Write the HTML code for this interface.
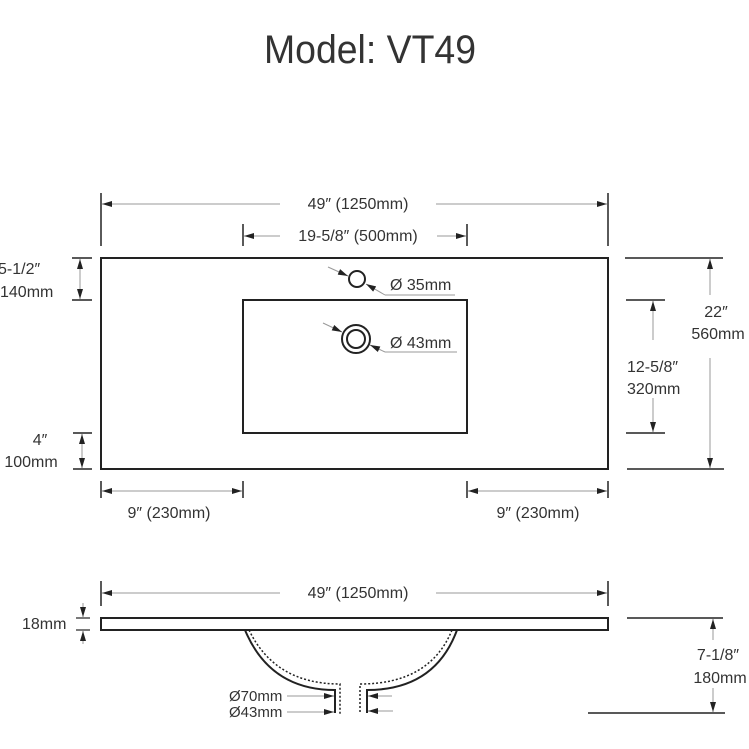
<!DOCTYPE html>
<html><head><meta charset="utf-8"><style>
html,body{margin:0;padding:0;background:#fff}
svg{display:block}
text{font-family:"Liberation Sans",sans-serif;fill:#333;font-size:16px}
</style></head><body>
<svg width="749" height="749" viewBox="0 0 749 749" xmlns="http://www.w3.org/2000/svg">
<defs>
<marker id="a" viewBox="0 0 10 6" refX="10" refY="3" markerWidth="11" markerHeight="6" markerUnits="userSpaceOnUse" orient="auto-start-reverse"><path d="M0,0L10,3L0,6Z" fill="#222"/></marker>
</defs>
<text x="370" y="63" text-anchor="middle" textLength="212" lengthAdjust="spacingAndGlyphs" style="font-size:40px">Model: VT49</text>

<g stroke="#222" fill="none">
<rect x="101" y="258" width="507" height="211" stroke-width="2"/>
<rect x="243" y="300" width="224" height="133" stroke-width="2"/>
<circle cx="357" cy="279" r="8" stroke-width="2"/>
<circle cx="356" cy="339" r="14" stroke-width="2"/>
<circle cx="356" cy="339" r="9" stroke-width="2"/>
<line x1="101" y1="193" x2="101" y2="246" stroke-width="1.5"/>
<line x1="608" y1="193" x2="608" y2="246" stroke-width="1.5"/>
<line x1="243" y1="224" x2="243" y2="246" stroke-width="1.5"/>
<line x1="467" y1="224" x2="467" y2="246" stroke-width="1.5"/>
<line x1="101" y1="481" x2="101" y2="498" stroke-width="1.5"/>
<line x1="243" y1="481" x2="243" y2="498" stroke-width="1.5"/>
<line x1="467" y1="481" x2="467" y2="498" stroke-width="1.5"/>
<line x1="608" y1="481" x2="608" y2="498" stroke-width="1.5"/>
<line x1="72" y1="258" x2="92" y2="258" stroke-width="1.5"/>
<line x1="72" y1="300" x2="92" y2="300" stroke-width="1.5"/>
<line x1="73" y1="433" x2="92" y2="433" stroke-width="1.5"/>
<line x1="73" y1="469" x2="92" y2="469" stroke-width="1.5"/>
<line x1="625" y1="258" x2="723" y2="258" stroke-width="1.5"/>
<line x1="627" y1="469" x2="724" y2="469" stroke-width="1.5"/>
<line x1="626" y1="300" x2="665" y2="300" stroke-width="1.5"/>
<line x1="626" y1="433" x2="665" y2="433" stroke-width="1.5"/>
</g>
<g stroke="#999" stroke-width="1" fill="none">
<line x1="102" y1="204" x2="280" y2="204" marker-start="url(#a)"/>
<line x1="436" y1="204" x2="607" y2="204" marker-end="url(#a)"/>
<line x1="244" y1="236" x2="280" y2="236" marker-start="url(#a)"/>
<line x1="437" y1="236" x2="466" y2="236" marker-end="url(#a)"/>
<line x1="80" y1="259" x2="80" y2="299" marker-start="url(#a)" marker-end="url(#a)"/>
<line x1="82" y1="434" x2="82" y2="468" marker-start="url(#a)" marker-end="url(#a)"/>
<line x1="102" y1="491" x2="242" y2="491" marker-start="url(#a)" marker-end="url(#a)"/>
<line x1="468" y1="491" x2="607" y2="491" marker-start="url(#a)" marker-end="url(#a)"/>
<line x1="710" y1="259" x2="710" y2="295" marker-start="url(#a)"/>
<line x1="710" y1="358" x2="710" y2="468" marker-end="url(#a)"/>
<line x1="653" y1="301" x2="653" y2="340" marker-start="url(#a)"/>
<line x1="653" y1="398" x2="653" y2="432" marker-end="url(#a)"/>
<line x1="328" y1="267" x2="348" y2="276" marker-end="url(#a)"/>
<line x1="385" y1="295" x2="366" y2="284" marker-end="url(#a)"/>
<line x1="385" y1="295" x2="455" y2="295"/>
<line x1="323" y1="323" x2="342" y2="332" marker-end="url(#a)"/>
<line x1="385" y1="352" x2="370" y2="345" marker-end="url(#a)"/>
<line x1="385" y1="352" x2="457" y2="352"/>
</g>
<text x="358" y="209" text-anchor="middle">49″ (1250mm)</text>
<text x="358" y="241" text-anchor="middle">19-5/8″ (500mm)</text>
<text x="390" y="290">Ø 35mm</text>
<text x="390" y="348">Ø 43mm</text>
<text x="-2" y="274">5-1/2″</text>
<text x="0" y="297">140mm</text>
<text x="40" y="445" text-anchor="middle">4″</text>
<text x="31" y="467" text-anchor="middle">100mm</text>
<text x="169" y="518" text-anchor="middle">9″ (230mm)</text>
<text x="538" y="518" text-anchor="middle">9″ (230mm)</text>
<text x="716" y="317" text-anchor="middle">22″</text>
<text x="718" y="339" text-anchor="middle">560mm</text>
<text x="627" y="372">12-5/8″</text>
<text x="627" y="394">320mm</text>

<g stroke="#222" fill="none">
<rect x="101" y="618" width="507" height="12" stroke-width="2"/>
<line x1="101" y1="581" x2="101" y2="606" stroke-width="1.5"/>
<line x1="608" y1="581" x2="608" y2="606" stroke-width="1.5"/>
<path d="M245,630 Q270,690 335,690 L335,713" stroke-width="2"/>
<path d="M457,630 Q435,690 367,690 L367,713" stroke-width="2"/>
<path d="M249,630 Q275,684 340,684 L340,714" stroke-width="1.5" stroke-dasharray="2,2"/>
<path d="M452,630 Q430,684 360,684 L360,714" stroke-width="1.5" stroke-dasharray="2,2"/>
<line x1="76" y1="618" x2="90" y2="618" stroke-width="1.2"/>
<line x1="76" y1="630" x2="90" y2="630" stroke-width="1.2"/>
<line x1="627" y1="618" x2="723" y2="618" stroke-width="1.5"/>
<line x1="588" y1="713" x2="725" y2="713" stroke-width="1.5"/>
</g>
<g stroke="#999" stroke-width="1" fill="none">
<line x1="102" y1="593" x2="280" y2="593" marker-start="url(#a)"/>
<line x1="436" y1="593" x2="607" y2="593" marker-end="url(#a)"/>
<line x1="83" y1="603" x2="83" y2="617" marker-end="url(#a)"/>
<line x1="83" y1="644" x2="83" y2="631" marker-end="url(#a)"/>
<line x1="713" y1="619" x2="713" y2="640" marker-start="url(#a)"/>
<line x1="713" y1="688" x2="713" y2="712" marker-end="url(#a)"/>
<line x1="287" y1="696" x2="334" y2="696" marker-end="url(#a)"/>
<line x1="287" y1="712" x2="334" y2="712" marker-end="url(#a)"/>
<line x1="392" y1="696" x2="368" y2="696" marker-end="url(#a)"/>
<line x1="393" y1="711" x2="368" y2="711" marker-end="url(#a)"/>
</g>
<text x="358" y="598" text-anchor="middle">49″ (1250mm)</text>
<text x="22" y="629">18mm</text>
<text x="718" y="660" text-anchor="middle">7-1/8″</text>
<text x="720" y="683" text-anchor="middle">180mm</text>
<text x="229" y="701" style="font-size:15px">Ø70mm</text>
<text x="229" y="717" style="font-size:15px">Ø43mm</text>
</svg>
</body></html>
